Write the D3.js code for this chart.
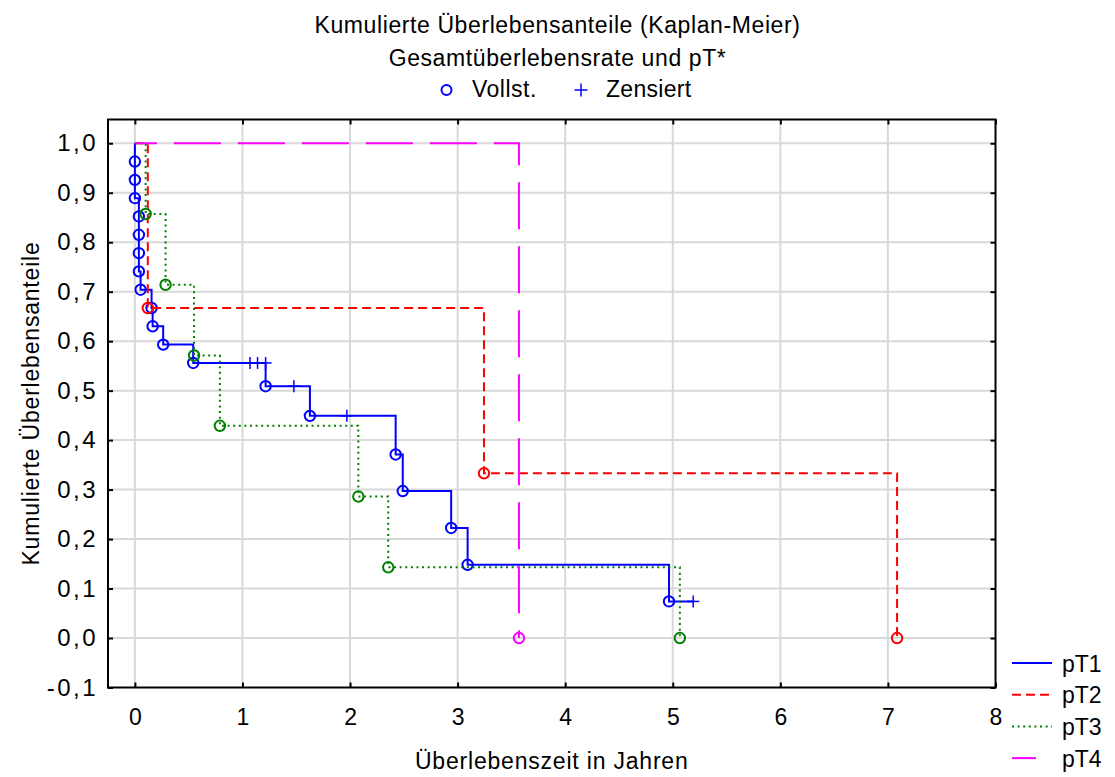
<!DOCTYPE html>
<html>
<head>
<meta charset="utf-8">
<script src="https://cdn.jsdelivr.net/npm/d3@7"></script>
<style>
  html, body { margin: 0; padding: 0; background: #fff; }
  svg text { font-family: "Liberation Sans", Arial, sans-serif; fill: #000; }
</style>
</head>
<body>
<svg id="chart" width="1115" height="777"></svg>
<script>
// Kaplan-Meier estimates per tumour stage: event times (years) with the
// survival level after each event, plus the censored observation times.
const pT1EventTimes = [0.0, 0.0, 0.0, 0.037, 0.037, 0.037, 0.037, 0.053, 0.155, 0.165, 0.263, 0.542, 1.215, 1.627, 2.424, 2.49, 2.94, 3.093, 4.965];
const pT1Survival   = [0.963, 0.926, 0.889, 0.852, 0.815, 0.778, 0.741, 0.704, 0.667, 0.630, 0.593, 0.556, 0.509, 0.449, 0.371, 0.297, 0.2225, 0.148, 0.074];
const pT1Censored   = [1.07, 1.14, 1.215, 1.478, 1.97, 5.19];

const pT2EventTimes = [0.12, 3.245, 7.085];
const pT2Survival   = [0.667, 0.333, 0.0];
const pT2Censored   = [];

const pT3EventTimes = [0.10, 0.285, 0.55, 0.79, 2.077, 2.355, 5.066];
const pT3Survival   = [0.857, 0.714, 0.571, 0.429, 0.286, 0.143, 0.0];
const pT3Censored   = [];

const pT4EventTimes = [3.57];
const pT4Survival   = [0.0];
const pT4Censored   = [];

const groupNames = ["pT1", "pT2", "pT3", "pT4"];
const xTicks = [0, 1, 2, 3, 4, 5, 6, 7, 8];
const yTicks = [-0.1, 0.0, 0.1, 0.2, 0.3, 0.4, 0.5, 0.6, 0.7, 0.8, 0.9, 1.0];

const titleLines = ["Kumulierte Überlebensanteile (Kaplan-Meier)", "Gesamtüberlebensrate und pT*"];
const xTitle = "Überlebenszeit in Jahren";
const yTitle = "Kumulierte Überlebensanteile";

// line style for each group
const styles = [
  { color: "#0000ff", dash: null,    offset: 0  },
  { color: "#ff0000", dash: "9,5",   offset: 0  },
  { color: "#008000", dash: "2,3.6", offset: 0  },
  { color: "#ff00ff", dash: "47,17", offset: 25 }
];

const groups = [
  { times: pT1EventTimes, surv: pT1Survival, cens: pT1Censored },
  { times: pT2EventTimes, surv: pT2Survival, cens: pT2Censored },
  { times: pT3EventTimes, surv: pT3Survival, cens: pT3Censored },
  { times: pT4EventTimes, surv: pT4Survival, cens: pT4Censored }
];

const locale = d3.formatLocale({ decimal: ",", thousands: ".", grouping: [3], currency: ["", " €"], minus: "-" });
const fmt1 = locale.format(".1f");

const svg = d3.select("#chart");
const plotL = 108, plotR = 995.5, plotT = 119.5, plotB = 687.5;
const x = d3.scaleLinear().domain([-0.25, 8]).range([plotL, plotR]);
const y = d3.scaleLinear().domain([-0.1, 1.048]).range([plotB, plotT]);
const FS = 23;

// grid
const grid = svg.append("g").attr("stroke", "#d9d9d9").attr("stroke-width", 2);
grid.selectAll("line.v").data(xTicks.filter(t => t < 8)).join("line").attr("class", "v")
  .attr("x1", d => x(d)).attr("x2", d => x(d)).attr("y1", plotT).attr("y2", plotB);
grid.selectAll("line.h").data(yTicks.filter(t => t > -0.1)).join("line").attr("class", "h")
  .attr("y1", d => y(d)).attr("y2", d => y(d)).attr("x1", plotL).attr("x2", plotR);

// axes with inward ticks
const yAxisG = svg.append("g").attr("transform", `translate(${plotL},0)`)
  .call(d3.axisLeft(y).tickValues(yTicks).tickSize(-5).tickPadding(10).tickFormat(fmt1));
svg.append("g").attr("transform", `translate(0,${plotB})`)
  .call(d3.axisBottom(x).tickValues(xTicks).tickSize(-5).tickPadding(21).tickFormat(d3.format("d")));
svg.append("g").attr("transform", `translate(${plotR},0)`)
  .call(d3.axisRight(y).tickValues(yTicks).tickSize(-5).tickFormat(""));
svg.append("g").attr("transform", `translate(0,${plotT})`)
  .call(d3.axisTop(x).tickValues(xTicks).tickSize(-5).tickFormat(""));
svg.selectAll(".domain").remove();
svg.selectAll(".tick line").attr("stroke", "#000").attr("stroke-width", 2);
svg.selectAll(".tick text").attr("font-size", FS).attr("font-family", "Liberation Sans, Arial, sans-serif");
yAxisG.selectAll(".tick text").attr("font-size", 24).attr("letter-spacing", 2.5);

// frame
svg.append("rect").attr("x", plotL).attr("y", plotT).attr("width", plotR - plotL).attr("height", plotB - plotT)
  .attr("fill", "none").attr("stroke", "#000").attr("stroke-width", 2);

// survival step curves
function stepPoints(g) {
  const pts = [[0, 1]];
  let prev = 1;
  g.times.forEach((t, i) => {
    pts.push([t, prev]);
    pts.push([t, g.surv[i]]);
    prev = g.surv[i];
  });
  const lastT = g.times.length ? g.times[g.times.length - 1] : 0;
  const maxC = g.cens.length ? d3.max(g.cens) : 0;
  if (maxC > lastT) pts.push([maxC, prev]);
  return pts;
}
function levelBefore(g, t) {
  let s = 1;
  g.times.forEach((et, i) => { if (et < t) s = g.surv[i]; });
  return s;
}
const line = d3.line().x(d => x(d[0])).y(d => y(d[1]));

groups.forEach((g, gi) => {
  const st = styles[gi];
  const layer = svg.append("g");
  layer.append("path").attr("d", line(stepPoints(g)))
    .attr("fill", "none").attr("stroke", st.color).attr("stroke-width", 2)
    .attr("stroke-dasharray", st.dash).attr("stroke-dashoffset", st.offset);
  // completed observations
  layer.selectAll("circle").data(g.times.map((t, i) => [t, g.surv[i]])).join("circle")
    .attr("cx", d => x(d[0])).attr("cy", d => y(d[1])).attr("r", 5.2)
    .attr("fill", "none").attr("stroke", st.color).attr("stroke-width", 2);
  // censored observations
  const cg = layer.selectAll("g.cens").data(g.cens).join("g").attr("class", "cens")
    .attr("transform", t => `translate(${x(t)},${y(levelBefore(g, t))})`);
  cg.append("line").attr("x1", -6).attr("x2", 6).attr("stroke", st.color).attr("stroke-width", 1.5);
  cg.append("line").attr("y1", -6).attr("y2", 6).attr("stroke", st.color).attr("stroke-width", 1.5);
});

// titles
svg.selectAll("text.title").data(titleLines).join("text").attr("class", "title")
  .attr("x", 557.5).attr("y", (d, i) => 32.5 + i * 33)
  .attr("text-anchor", "middle").attr("font-size", FS).attr("letter-spacing", 0.6).text(d => d);

// marker legend
const ml = svg.append("g");
ml.append("circle").attr("cx", 446.5).attr("cy", 90).attr("r", 5)
  .attr("fill", "none").attr("stroke", "#0000ff").attr("stroke-width", 2);
ml.append("text").attr("x", 472).attr("y", 97).attr("font-size", FS).attr("letter-spacing", 0.5).text("Vollst.");
ml.append("line").attr("x1", 574.5).attr("x2", 587.5).attr("y1", 90).attr("y2", 90).attr("stroke", "#0000ff").attr("stroke-width", 1.5);
ml.append("line").attr("x1", 581).attr("x2", 581).attr("y1", 83.5).attr("y2", 96.5).attr("stroke", "#0000ff").attr("stroke-width", 1.5);
ml.append("text").attr("x", 606).attr("y", 97).attr("font-size", FS).attr("letter-spacing", 0.3).text("Zensiert");

// axis titles
svg.append("text").attr("x", (plotL + plotR) / 2).attr("y", 769).attr("text-anchor", "middle")
  .attr("font-size", FS).attr("letter-spacing", 0.8).text(xTitle);
svg.append("text").attr("transform", `translate(39,${(plotT + plotB) / 2}) rotate(-90)`)
  .attr("text-anchor", "middle").attr("font-size", FS).attr("letter-spacing", 0.8).text(yTitle);

// group legend
const lg = svg.append("g");
groupNames.forEach((name, i) => {
  const cy = 663 + i * 31.7;
  const st = styles[i];
  lg.append("line").attr("x1", 1012).attr("x2", i === 3 ? 1036 : 1052).attr("y1", cy).attr("y2", cy)
    .attr("stroke", st.color).attr("stroke-width", 2)
    .attr("stroke-dasharray", i === 3 ? null : st.dash);
  lg.append("text").attr("x", 1062).attr("y", cy + 8.5).attr("font-size", FS).text(name);
});
</script>
</body>
</html>
